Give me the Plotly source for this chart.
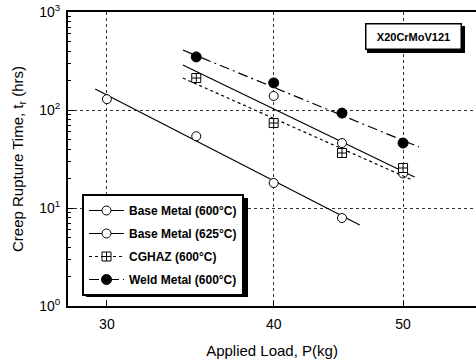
import plotly.graph_objects as go

# ---- data ----
load_base600 = [40, 45, 50]
time_base600 = [139, 46, 22.5]
fitx_base600 = [34.2, 51.0]
fity_base600 = [288, 20.7]

load_base625 = [30, 35, 40, 45]
time_base625 = [129, 54, 18, 7.9]
fitx_base625 = [29.4, 46.4]
fity_base625 = [164, 6.7]

load_cghaz = [35, 40, 45, 50]
time_cghaz = [212, 73.6, 36.4, 25.6]
fitx_cghaz = [34.2, 50.8]
fity_cghaz = [212, 19.3]

load_weld = [35, 40, 45, 50]
time_weld = [348, 189, 93, 46]
fitx_weld = [34.2, 51.4]
fity_weld = [409, 41.9]

names = ["Base Metal (600°C)", "Base Metal (625°C)", "CGHAZ (600°C)", "Weld Metal (600°C)"]
x_ticks = [30, 40, 50]
y_ticks = [1, 10, 100, 1000]
y_ticktext = ["10<sup>0</sup>", "10<sup>1</sup>", "10<sup>2</sup>", "10<sup>3</sup>"]

FONT = "Liberation Sans, Arial, sans-serif"

series = [
    (load_base600, time_base600, fitx_base600, fity_base600, names[0],
     dict(symbol="circle", size=9, color="white", line=dict(color="black", width=1)), "solid"),
    (load_base625, time_base625, fitx_base625, fity_base625, names[1],
     dict(symbol="circle", size=9, color="white", line=dict(color="black", width=1)), "solid"),
    (load_cghaz, time_cghaz, fitx_cghaz, fity_cghaz, names[2],
     dict(symbol="square-cross", size=9, color="white", line=dict(color="black", width=1)), "dot"),
    (load_weld, time_weld, fitx_weld, fity_weld, names[3],
     dict(symbol="circle", size=10, color="black", line=dict(color="black", width=1)), "10px,4px,2px,4px"),
]

fig = go.Figure()
for i, (lx, ty, fx, fy, nm, mk, dash) in enumerate(series):
    fig.add_trace(go.Scatter(x=fx, y=fy, mode="lines", line=dict(color="black", width=1.2, dash=dash),
                             showlegend=False, legendgroup=str(i), hoverinfo="skip"))
    fig.add_trace(go.Scatter(x=lx, y=ty, mode="markers", marker=mk, showlegend=False,
                             legendgroup=str(i)))
    fig.add_trace(go.Scatter(x=[None], y=[None], mode="lines+markers", marker=mk, name=nm,
                             line=dict(color="black", width=1, dash=dash), legendgroup=str(i)))

W, H = 476, 362
L, T, B = 68, 12, 56
pw, ph = W - L, H - T - B


def px(x):
    return (x - L) / pw


def py(y):
    return (H - B - y) / ph


fig.update_layout(
    width=W, height=H,
    margin=dict(l=L, r=0, t=T, b=B),
    paper_bgcolor="white", plot_bgcolor="white",
    font=dict(family=FONT, color="black"),
    xaxis=dict(
        type="log", range=[1.448, 1.7536],
        tickmode="array", tickvals=x_ticks, ticktext=[str(v) for v in x_ticks],
        showline=True, linecolor="black", linewidth=2, mirror=True,
        ticks="inside", ticklen=5, tickcolor="black",
        showgrid=True, gridcolor="#333", griddash="dot", gridwidth=1,
        zeroline=False, tickfont=dict(size=14), ticklabelstandoff=4,
        title=dict(text="Applied Load, P(kg)", font=dict(size=15), standoff=15),
    ),
    yaxis=dict(
        type="log", range=[0, 3],
        tickmode="array", tickvals=y_ticks, ticktext=y_ticktext,
        showline=True, linecolor="black", linewidth=2, mirror=False,
        ticks="inside", ticklen=6, tickcolor="black",
        minor=dict(ticks="inside", ticklen=3, tickcolor="black", showgrid=False,
                   tickvals=[m * 10 ** k for k in range(3) for m in range(2, 10)]),
        showgrid=True, gridcolor="#333", griddash="dot", gridwidth=1,
        zeroline=False, tickfont=dict(size=14), ticklabelstandoff=3,
        title=dict(text="Creep Rupture Time, t<sub>r</sub> (hrs)", font=dict(size=15), standoff=12),
    ),
    legend=dict(
        x=px(82), y=py(194), xanchor="left", yanchor="top",
        bgcolor="white", bordercolor="black", borderwidth=2,
        font=dict(size=12, family=FONT, weight="bold"),
        tracegroupgap=4, itemwidth=35,
    ),
    showlegend=True,
)

# legend shadow
fig.add_shape(type="rect", xref="paper", yref="paper",
              x0=px(86), x1=px(248), y0=py(297), y1=py(198),
              fillcolor="black", line=dict(width=0), layer="above")

# label box + shadow
fig.add_shape(type="rect", xref="paper", yref="paper",
              x0=px(367), x1=px(465), y0=py(53), y1=py(26),
              fillcolor="black", line=dict(width=0), layer="above")
fig.add_annotation(x=px(413), y=py(36.5), xref="paper", yref="paper",
                   xanchor="center", yanchor="middle",
                   text="X20CrMoV121", showarrow=False,
                   font=dict(size=11, family=FONT, weight="bold"),
                   bgcolor="white", bordercolor="black", borderwidth=1.5,
                   width=92, height=22, borderpad=1)

fig.write_html("out.html")
